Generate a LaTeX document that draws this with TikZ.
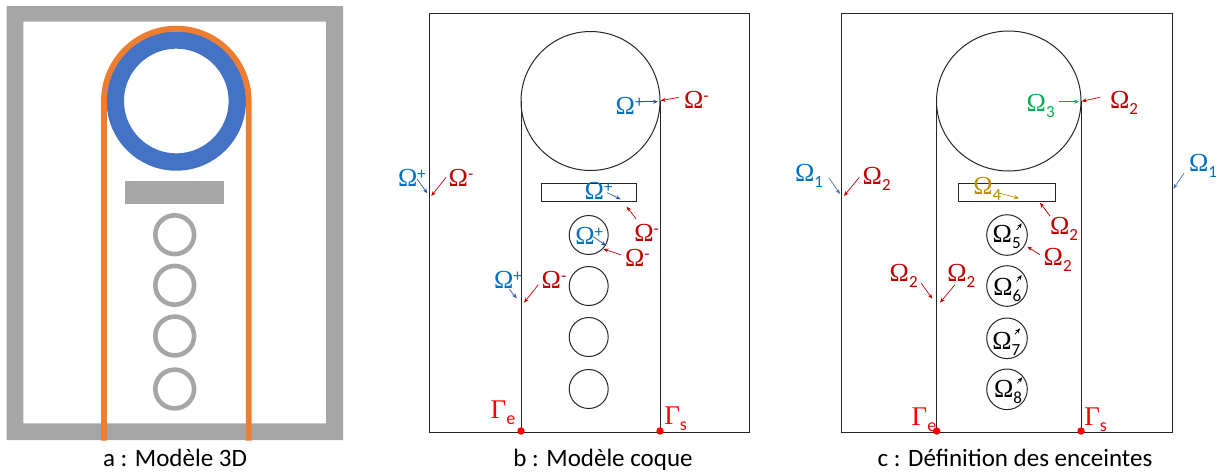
\documentclass[tikz,border=0pt]{standalone}
\usepackage{fontspec}
\setmainfont{Carlito}
\newfontfamily\omfont{Liberation Serif}
\usetikzlibrary{arrows.meta}
\definecolor{graya}{HTML}{A6A6A6}
\definecolor{orangea}{HTML}{ED7D31}
\definecolor{bluea}{HTML}{4472C4}
\definecolor{omblue}{HTML}{0070C0}
\definecolor{omred}{HTML}{C00000}
\definecolor{omgreen}{HTML}{00B050}
\definecolor{omgold}{HTML}{BF9000}
\definecolor{arrblue}{HTML}{2F5597}
\newcommand{\omsup}[1]{{\omfont\fontsize{26}{26}\selectfont Ω}\raisebox{7pt}{\fontsize{17}{17}\selectfont #1}}
\newcommand{\omsub}[1]{{\omfont\fontsize{26}{26}\selectfont Ω}\raisebox{-6pt}{\fontsize{17}{17}\selectfont #1}}
\newcommand{\gamsub}[1]{{\omfont\fontsize{27}{27}\selectfont Γ}\raisebox{-6pt}{\fontsize{18}{18}\selectfont #1}}
\tikzset{
  lab/.style={anchor=base west,inner sep=0pt,outer sep=0pt},
  caption/.style={anchor=base,inner sep=0pt,font=\fontsize{25}{25}\selectfont},
  shell/.style={draw=black!85,line width=1pt},
  arr/.style={->,line width=0.7pt},
  dot/.style={circle,fill=red,inner sep=0pt,minimum size=7.4pt}
}
\begin{document}
\begin{tikzpicture}[x=1pt,y=-1pt,>={Stealth[length=5pt,width=4pt]}]
\useasboundingbox (0,0) rectangle (1220,472);
% a : 3D model
\fill[graya,even odd rule] (6.7,6) rectangle (343,440) (23.3,21.7) rectangle (326,423.3);
\draw[bluea,line width=17.4pt] (176.3,101) circle[radius=61];
\draw[orangea,line width=5.8pt] (104,440.7)--(104,101) arc[start angle=180,end angle=360,radius=72.35]--(248.7,440.7);
\fill[graya] (125,180.7) rectangle (224.3,203.7);
\foreach \y in {234.7,285.3,336,389}
  \draw[graya,line width=4.6pt] (174.7,\y) circle[radius=19.4];
\node[caption] (capa) at (175,466.7) {a : Modèle 3D};
% b : shell model
\draw[shell] (429,13) rectangle (749,432);
\draw[shell] (521,432)--(521,101);
\draw[shell] (660,432)--(660,101);
\draw[shell] (590.5,101) circle[radius=69.5];
\draw[shell] (541.3,183) rectangle (636,201.3);
\foreach \y in {235,286,337,389}
  \draw[shell] (588.7,\y) circle[radius=19.5];
\node[dot] (be) at (521,431) {};
\node[dot] (bs) at (660,431) {};
\node[lab,red] (gbe) at (490.7,418.3) {\gamsub{e}};
\node[lab,red] (gbs) at (664.3,424) {\gamsub{s}};
\foreach \n/\x/\y in {a/398/186,b/615.7/114.3,c/584.7/199.3,d/575.3/244.3,e/494/288.7}
  \node[lab,omblue] (bp\n) at (\x,\y) {\omsup{+}};
\foreach \n/\x/\y in {a/448.7/186,b/684/108,c/634.3/241.7,d/625/266,e/541.7/288.7}
  \node[lab,omred] (bm\n) at (\x,\y) {\omsup{-}};
\foreach \n/\xa/\ya/\xb/\yb in {a/417.3/179.3/427.3/193.3,b/638/101.7/658/101.7,c/607.3/192.7/620.7/199.3,d/593.3/236.7/606/245.7,e/509.3/289.3/516.7/298.3}{
  \coordinate (sp\n) at (\xa,\ya);
  \coordinate (tp\n) at (\xb,\yb);
  \draw[arr,arrblue] (sp\n)--(tp\n);
}
\foreach \n/\xa/\ya/\xb/\yb in {a/446/177.3/431.3/196,b/678.7/97.3/660.7/100.7,c/636/218.7/626.7/206.7,d/620.7/254.7/603.3/249,e/538.3/284.7/524/302.7}{
  \coordinate (sm\n) at (\xa,\ya);
  \coordinate (tm\n) at (\xb,\yb);
  \draw[arr,omred] (sm\n)--(tm\n);
}
\node[caption] (capb) at (603,466.7) {b : Modèle coque};
% c : enclosures
\draw[shell] (841.7,13) rectangle (1172.3,432);
\draw[shell] (936.5,432)--(936.5,101);
\draw[shell] (1081,432)--(1081,101);
\draw[shell] (1008.75,101) ellipse[x radius=72.25,y radius=70];
\draw[shell] (958.3,183) rectangle (1055.7,201.3);
\foreach \y in {235,286,338.3,389.3}
  \draw[shell] (1007,\y) circle[radius=20.3];
\node[dot] (ce) at (936.7,431) {};
\node[dot] (cs) at (1081,431) {};
\node[lab,red] (gce) at (911.7,425.7) {\gamsub{e}};
\node[lab,red] (gcs) at (1084.3,425.7) {\gamsub{s}};
\node[lab,omblue] (oma) at (795,181) {\omsub{1}};
\node[lab,omblue] (omb) at (1189,171) {\omsub{1}};
\node[lab,omgreen] (omc) at (1026.7,111.3) {\omsub{3}};
\node[lab,omgold] (omd) at (973.3,194.7) {\omsub{4}};
\foreach \n/\x/\y in {a/862.7/184,b/1110/108.3,c/1050/234.7,d/1043.7/265.3,e/889.7/281.7,f/947.3/281.7}
  \node[lab,omred] (omr\n) at (\x,\y) {\omsub{2}};
\foreach \n/\s/\x/\y in {e/5/992.7/242.7,f/6/993.3/295,g/7/992.3/349,h/8/994/397.7}
  \node[lab] (om\n) at (\x,\y) {\omsub{\s}};
\foreach \n/\col/\xa/\ya/\xb/\yb in {a/bluea/829.3/178.3/840/194,b/bluea/1184/173.3/1173.3/188.7,c/omgreen/1059/101.7/1079/101.7,d/omgold/997.3/192.7/1019/198.3,e/black/1016.7/230/1021.7/223.3,f/black/1016.7/281.7/1021.7/275,g/black/1015/334.3/1020/328.3,h/black/1017.3/383.3/1022.3/377.3}{
  \coordinate (sc\n) at (\xa,\ya);
  \coordinate (tc\n) at (\xb,\yb);
  \draw[arr,\col] (sc\n)--(tc\n);
}
\foreach \n/\xa/\ya/\xb/\yb in {a/859.3/177.3/844/196,b/1100/97.3/1081.7/101.3,c/1050/216/1040/202.7,d/1040/254.7/1027.3/246.7,e/921.3/283.3/932.3/298.7,f/955/284.7/940/302.7}{
  \coordinate (sr\n) at (\xa,\ya);
  \coordinate (tr\n) at (\xb,\yb);
  \draw[arr,omred] (sr\n)--(tr\n);
}
\node[caption] (capc) at (1015,466.7) {c : Définition des enceintes};
\end{tikzpicture}
\end{document}
